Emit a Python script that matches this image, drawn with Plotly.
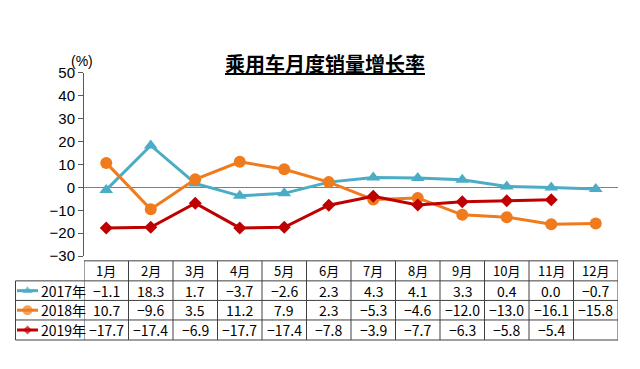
import plotly.graph_objects as go

months = ["1月", "2月", "3月", "4月", "5月", "6月", "7月", "8月", "9月", "10月", "11月", "12月"]
series_names = ["2017年", "2018年", "2019年"]
v2017 = [-1.1, 18.3, 1.7, -3.7, -2.6, 2.3, 4.3, 4.1, 3.3, 0.4, 0.0, -0.7]
v2018 = [10.7, -9.6, 3.5, 11.2, 7.9, 2.3, -5.3, -4.6, -12.0, -13.0, -16.1, -15.8]
v2019 = [-17.7, -17.4, -6.9, -17.7, -17.4, -7.8, -3.9, -7.7, -6.3, -5.8, -5.4, None]
y_ticks = [-30, -20, -10, 0, 10, 20, 30, 40, 50]

colors = ["#4BACC6", "#F07B1C", "#C00000"]
symbols = ["triangle-up", "circle", "diamond"]
msizes = [12, 12, 10]
key_sizes = [9, 10, 7]
all_vals = [v2017, v2018, v2019]

W, H = 640, 369
PL, PR, PT, PB = 84, 618, 67, 259   # plot area in pixels
Y0, Y1 = -30, 50
N = len(months)

def fx(px):
    return px / W

def fy(py):
    return 1 - py / H

CJK = "Noto Sans CJK SC"
x_idx = list(range(N))

fig = go.Figure()
for name, vals, c, s, ms in zip(series_names, all_vals, colors, symbols, msizes):
    fig.add_trace(go.Scatter(
        x=x_idx, y=vals, mode="lines+markers", name=name,
        line=dict(color=c, width=3),
        marker=dict(symbol=s, size=ms, color=c, line=dict(width=0)),
        connectgaps=False, showlegend=False, cliponaxis=False, hoverinfo="skip",
    ))

shapes = []
annotations = []

row_edges = [264, 285, 305.5, 326, 347]
line_col = "#404040"
shapes.append(dict(type="line", xref="paper", yref="paper", x0=fx(PL), x1=fx(PR),
                   y0=fy(row_edges[0]), y1=fy(row_edges[0]), line=dict(color=line_col, width=1)))
for r in row_edges[1:]:
    shapes.append(dict(type="line", xref="paper", yref="paper", x0=fx(15.5), x1=fx(PR),
                       y0=fy(r), y1=fy(r), line=dict(color=line_col, width=1)))
for i in range(N + 1):
    shapes.append(dict(type="line", xref="x", yref="paper", x0=i - 0.5, x1=i - 0.5,
                       y0=fy(row_edges[0]), y1=fy(row_edges[-1]), line=dict(color=line_col, width=1)))
shapes.append(dict(type="line", xref="paper", yref="paper", x0=fx(15.5), x1=fx(15.5),
                   y0=fy(row_edges[1]), y1=fy(row_edges[-1]), line=dict(color=line_col, width=1)))

hc = (row_edges[0] + row_edges[1]) / 2
for i, m in enumerate(months):
    annotations.append(dict(x=i, y=fy(hc), xref="x", yref="paper", text=m, showarrow=False,
                            xanchor="center", yanchor="middle",
                            font=dict(family=CJK, size=13, color="#000")))

def fmt(v):
    if v is None:
        return ""
    return f"{v:.1f}".replace("-", "−")

for k, (name, vals, c, s, ks) in enumerate(zip(series_names, all_vals, colors, symbols, key_sizes)):
    rc = (row_edges[k + 1] + row_edges[k + 2]) / 2
    for i, v in enumerate(vals):
        t = fmt(v)
        if t:
            annotations.append(dict(x=i, y=fy(rc), xref="x", yref="paper", text=t, showarrow=False,
                                    xanchor="center", yanchor="middle",
                                    font=dict(family=CJK, size=14, color="#000")))
    # legend key drawn on a full-figure pixel-coordinate axis pair
    fig.add_trace(go.Scatter(
        x=[17, 27.5, 38], y=[rc, rc, rc], mode="lines+markers", showlegend=False,
        line=dict(color=c, width=3),
        marker=dict(symbol=s, size=[0, ks, 0], color=c, line=dict(width=0)),
        xaxis="x2", yaxis="y2", cliponaxis=False, hoverinfo="skip",
    ))
    annotations.append(dict(x=fx(39), y=fy(rc), xref="paper", yref="paper", text=name, showarrow=False,
                            xanchor="left", yanchor="middle",
                            font=dict(family=CJK, size=14, color="#000")))

annotations.append(dict(x=fx(325), y=fy(57), xref="paper", yref="paper",
                        text="<b><u>乘用车月度销量增长率</u></b>", showarrow=False,
                        xanchor="center", yanchor="middle",
                        font=dict(family=CJK, size=20, color="#000")))
annotations.append(dict(x=fx(82), y=fy(54), xref="paper", yref="paper",
                        text="(%)", showarrow=False, xanchor="center", yanchor="middle",
                        font=dict(family="Liberation Sans, Arial", size=14, color="#000")))

fig.update_layout(
    width=W, height=H,
    margin=dict(l=0, r=0, t=0, b=0, pad=0),
    paper_bgcolor="white", plot_bgcolor="rgba(0,0,0,0)",
    shapes=shapes, annotations=annotations,
    hovermode=False,
    xaxis=dict(domain=[fx(PL), fx(PR)], range=[-0.5, N - 0.5], showticklabels=False, showgrid=False,
               zeroline=False, showline=False, ticks="", fixedrange=True, anchor="y"),
    yaxis=dict(domain=[fy(PB), fy(PT)], range=[Y0, Y1], tickvals=y_ticks, showgrid=False, zeroline=True,
               zerolinecolor="#808080", zerolinewidth=1, showline=True, linecolor="#595959",
               linewidth=1, ticks="outside", ticklen=5, tickcolor="#595959", fixedrange=True,
               anchor="x",
               tickfont=dict(family="Liberation Sans, Arial", size=15, color="#000")),
    xaxis2=dict(domain=[0, 1], range=[0, W], anchor="y2", visible=False, fixedrange=True),
    yaxis2=dict(domain=[0, 1], range=[H, 0], anchor="x2", visible=False, fixedrange=True),
    font=dict(family=CJK),
)

fig.write_html("out.html", config={"displayModeBar": False},
               post_script="document.body.style.margin='0';")
